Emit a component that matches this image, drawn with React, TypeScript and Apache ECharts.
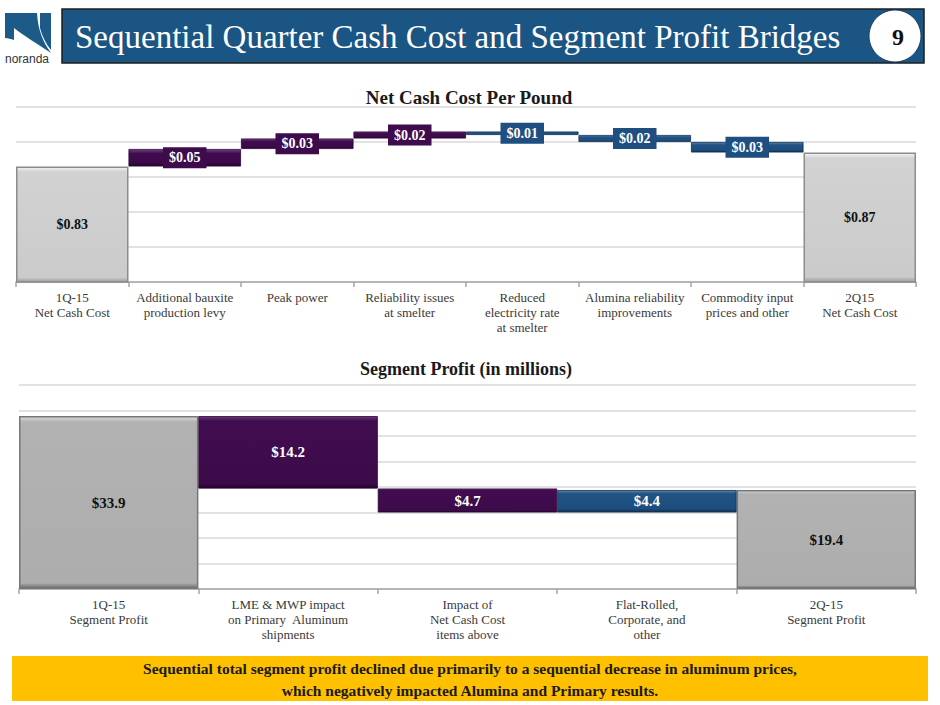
import React, { useEffect, useRef } from "react";
import * as echarts from "echarts";

// ---------- DATA ----------
const cashCategories = [
  "1Q-15\nNet Cash Cost",
  "Additional bauxite\nproduction levy",
  "Peak power",
  "Reliability issues\nat smelter",
  "Reduced\nelectricity rate\nat smelter",
  "Alumina reliability\nimprovements",
  "Commodity input\nprices and other",
  "2Q15\nNet Cash Cost",
];
const cashStart = 0.83;
const cashSteps = [0.05, 0.03, 0.02, -0.01, -0.02, -0.03];
const cashEnd = 0.87;
const cashAxis = { min: 0.5, max: 1.0, interval: 0.1 };

const profitCategories = [
  "1Q-15\nSegment Profit",
  "LME & MWP impact\non Primary  Aluminum\nshipments",
  "Impact of\nNet Cash Cost\nitems above",
  "Flat-Rolled,\nCorporate, and\nother",
  "2Q-15\nSegment Profit",
];
const profitStart = 33.9;
const profitSteps = [-14.2, -4.7, 4.4];
const profitEnd = 19.4;
const profitAxis = { min: 0, max: 40, interval: 5 };

const headerTitle = "Sequential Quarter Cash Cost and Segment Profit Bridges";
const pageNumber = "9";
const cashTitle = "Net Cash Cost Per Pound";
const profitTitle = "Segment Profit (in millions)";
const footerLines = [
  "Sequential total segment profit declined due primarily to a sequential decrease in aluminum prices,",
  "which negatively impacted Alumina and Primary results.",
];

// ---------- HELPERS ----------
function waterfall(start: number, steps: number[], end: number) {
  const base: any[] = [0];
  const total: any[] = [start];
  const up: any[] = ["-"];
  const down: any[] = ["-"];
  let level = start;
  steps.forEach((d) => {
    const next = Math.round((level + d) * 1000) / 1000;
    base.push(Math.round(Math.min(level, next) * 1000) / 1000);
    total.push("-");
    if (d >= 0) {
      up.push(Math.abs(d));
      down.push("-");
    } else {
      down.push(Math.abs(d));
      up.push("-");
    }
    level = next;
  });
  base.push(0);
  total.push(end);
  up.push("-");
  down.push("-");
  return { base, total, up, down };
}

const SERIF = "'Liberation Serif', 'Times New Roman', serif";

function grad(stops: [number, string][]) {
  return new echarts.graphic.LinearGradient(
    0,
    0,
    0,
    1,
    stops.map(([offset, color]) => ({ offset, color }))
  );
}

const NORANDA_D =
  "M5 13 L37 13 C38 30 43 42 51 53 C38 44 24 36 14 28 L14 40 C11 39 8 38 5 38 Z M40 13 L51 13 L51 50 C46 44 42 36 40 28 Z";

let registered = false;
function registerLogo() {
  if (registered) return;
  registered = true;
  echarts.graphic.registerShape(
    "norandaLogo",
    (echarts.graphic as any).extendPath(NORANDA_D, {})
  );
}

export default function App() {
  const ref = useRef<HTMLDivElement>(null);

  useEffect(() => {
    document.body.style.margin = "0";
    registerLogo();
    const chart = echarts.init(ref.current!, null, { renderer: "svg" });

    const cw = waterfall(cashStart, cashSteps, cashEnd);
    const pw = waterfall(profitStart, profitSteps, profitEnd);

    const purpleTop = grad([
      [0, "#6e4080"],
      [0.25, "#400c4e"],
      [0.8, "#3c0a49"],
      [1, "#24032d"],
    ]);
    const blueTop = grad([
      [0, "#5b86b0"],
      [0.25, "#215485"],
      [0.8, "#1d4d7c"],
      [1, "#0f2f50"],
    ]);
    const grayTop = grad([
      [0, "#f4f4f4"],
      [0.04, "#d2d2d2"],
      [0.96, "#cbcbcb"],
      [1, "#9a9a9a"],
    ]);
    const purpleBot = grad([
      [0, "#6a3a7a"],
      [0.06, "#420d50"],
      [0.94, "#3c0a49"],
      [1, "#24032d"],
    ]);
    const blueBot = grad([
      [0, "#5b86b0"],
      [0.15, "#215485"],
      [0.85, "#1d4d7c"],
      [1, "#0f2f50"],
    ]);
    const grayBot = grad([
      [0, "#dcdcdc"],
      [0.03, "#b2b2b2"],
      [0.97, "#adadad"],
      [1, "#6a6a6a"],
    ]);

    const xAxisCommon = (cats: string[], gi: number) => ({
      type: "category",
      gridIndex: gi,
      data: cats,
      boundaryGap: true,
      axisLine: { show: true, lineStyle: { color: "#a6a6a6", width: 1.5 } },
      axisTick: { show: true, length: 5, lineStyle: { color: "#a6a6a6", width: 1.5 } },
      axisLabel: {
        interval: 0,
        margin: 8,
        color: "#3a3a3a",
        fontFamily: SERIF,
        fontSize: 13,
        lineHeight: 15,
      },
    });

    const yAxisCommon = (ax: any, gi: number) => ({
      type: "value",
      gridIndex: gi,
      min: ax.min,
      max: ax.max,
      interval: ax.interval,
      axisLabel: { show: false },
      axisLine: { show: false },
      axisTick: { show: false },
      splitLine: { show: true, lineStyle: { color: "#d9d9d9", width: 1.5 } },
    });

    const fmt = (digits: number) => (p: any) =>
      "$" + Number(p.value).toFixed(digits);

    const deltaLabel = (bg: string | null, digits: number, size: number) => ({
      show: true,
      position: "inside",
      formatter: fmt(digits),
      color: "#ffffff",
      fontFamily: SERIF,
      fontWeight: "bold",
      fontSize: size,
      backgroundColor: bg || "transparent",
      padding: bg ? [4, 6, 3, 6] : 0,
    });

    const totalLabel = (digits: number, size: number) => ({
      show: true,
      position: "inside",
      formatter: fmt(digits),
      color: "#111111",
      fontFamily: SERIF,
      fontWeight: "bold",
      fontSize: size,
    });

    const mkSeries = (
      w: any,
      gi: number,
      stack: string,
      colors: any,
      digits: number,
      labelSize: number,
      boxed: boolean
    ) => [
      {
        type: "bar",
        xAxisIndex: gi,
        yAxisIndex: gi,
        stack,
        data: w.base,
        barWidth: "100%",
        itemStyle: { color: "transparent" },
        emphasis: { disabled: true },
        silent: true,
      },
      {
        type: "bar",
        xAxisIndex: gi,
        yAxisIndex: gi,
        stack,
        data: w.total,
        barWidth: "100%",
        itemStyle: {
          color: colors.gray,
          borderColor: colors.grayBorder,
          borderWidth: 1.5,
        },
        label: totalLabel(digits, labelSize),
      },
      {
        type: "bar",
        xAxisIndex: gi,
        yAxisIndex: gi,
        stack,
        data: w.up,
        barWidth: "100%",
        itemStyle: { color: colors.up, borderColor: "#2a0533", borderWidth: 0.8 },
        label: deltaLabel(boxed ? "#3e0b4c" : null, digits, labelSize),
      },
      {
        type: "bar",
        xAxisIndex: gi,
        yAxisIndex: gi,
        stack,
        data: w.down,
        barWidth: "100%",
        barCategoryGap: "0%",
        itemStyle: { color: colors.down, borderColor: "#10304f", borderWidth: 0.8 },
        label: deltaLabel(boxed ? "#1f4f80" : null, digits, labelSize),
      },
    ];

    // Profit chart: purple = decreases, blue = increases
    const profitSeries = mkSeries(
      { base: pw.base, total: pw.total, up: pw.down, down: pw.up },
      1,
      "p",
      { gray: grayBot, grayBorder: "#777777", up: purpleBot, down: blueBot },
      1,
      15,
      false
    );

    const centeredText = (
      x: number,
      y: number,
      text: string,
      size: number,
      bold: boolean,
      fill: string
    ) => ({
      type: "text",
      x,
      y,
      style: {
        text,
        fontFamily: SERIF,
        fontWeight: bold ? "bold" : "normal",
        fontSize: size,
        fill,
        textAlign: "center",
        textVerticalAlign: "middle",
      },
    });

    const option: any = {
      animation: false,
      backgroundColor: "#ffffff",
      grid: [
        { left: 16, right: 24, top: 107, height: 175 },
        { left: 19, right: 24, top: 385, height: 204 },
      ],
      xAxis: [xAxisCommon(cashCategories, 0), xAxisCommon(profitCategories, 1)],
      yAxis: [yAxisCommon(cashAxis, 0), yAxisCommon(profitAxis, 1)],
      series: [
        ...mkSeries(
          cw,
          0,
          "c",
          { gray: grayTop, grayBorder: "#8c8c8c", up: purpleTop, down: blueTop },
          2,
          14,
          true
        ),
        ...profitSeries,
      ],
      graphic: [
        // logo
        {
          type: "norandaLogo",
          x: 0,
          y: 0,
          style: { fill: "#1c5a88" },
        },
        {
          type: "text",
          x: 5,
          y: 59,
          style: {
            text: "noranda",
            fontFamily: "'Liberation Sans', Arial, sans-serif",
            fontSize: 12,
            fill: "#333333",
            textVerticalAlign: "middle",
          },
        },
        // banner
        {
          type: "rect",
          shape: { x: 62, y: 9, width: 862, height: 54 },
          style: { fill: "#1b5583", stroke: "#1e1e1e", lineWidth: 1.5 },
        },
        {
          type: "text",
          x: 75,
          y: 37,
          style: {
            text: headerTitle,
            fontFamily: SERIF,
            fontSize: 33,
            fill: "#ffffff",
            textVerticalAlign: "middle",
          },
        },
        {
          type: "circle",
          shape: { cx: 895, cy: 36, r: 26 },
          style: { fill: "#ffffff", stroke: "#1b3f66", lineWidth: 1 },
        },
        centeredText(898, 37, pageNumber, 24, true, "#111111"),
        // chart titles
        centeredText(469, 97, cashTitle, 19, true, "#1a1a1a"),
        centeredText(466, 369, profitTitle, 18, true, "#1a1a1a"),
        // footer
        {
          type: "rect",
          shape: { x: 12, y: 656, width: 916, height: 45 },
          style: { fill: "#ffc000" },
        },
        centeredText(470, 668, footerLines[0], 15.5, true, "#1a1a1a"),
        centeredText(470, 690, footerLines[1], 15.5, true, "#1a1a1a"),
      ],
    };

    chart.setOption(option);
    return () => chart.dispose();
  }, []);

  return <div ref={ref} style={{ width: 940, height: 705 }} />;
}
